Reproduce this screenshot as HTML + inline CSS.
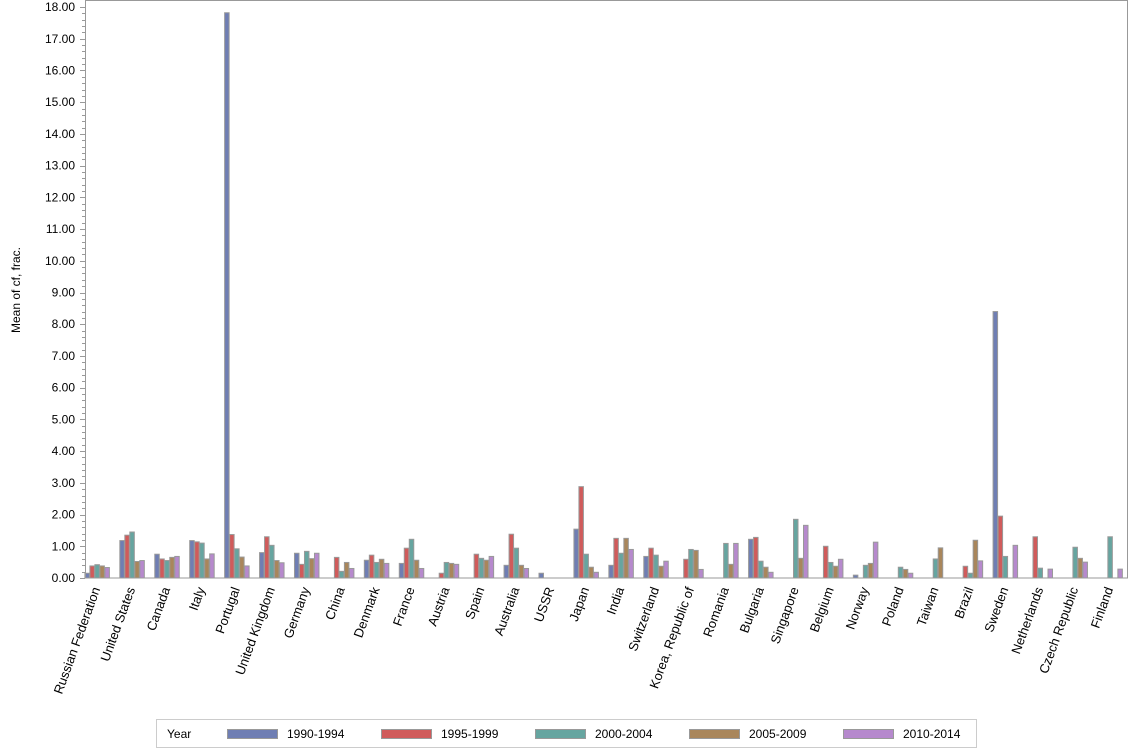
<!DOCTYPE html>
<html><head><meta charset="utf-8"><style>
html,body{margin:0;padding:0;background:#fff;}
svg{display:block;font-family:"Liberation Sans",sans-serif;}
</style></head><body>
<svg id="s" width="1134" height="756" xmlns="http://www.w3.org/2000/svg">
<rect x="0" y="0" width="1134" height="756" fill="#fff"/>
<g id="bars"></g>
<g id="ticks" stroke="#999" stroke-width="1"></g>
<rect x="85.5" y="0.5" width="1042" height="577.5" fill="none" stroke="#999"/>
<g font-size="12" fill="#000" text-anchor="end">
<text x="75" y="582">0.00</text><text x="75" y="550.3">1.00</text><text x="75" y="518.6">2.00</text>
<text x="75" y="486.8">3.00</text><text x="75" y="455.1">4.00</text><text x="75" y="423.4">5.00</text>
<text x="75" y="391.7">6.00</text><text x="75" y="360">7.00</text><text x="75" y="328.2">8.00</text>
<text x="75" y="296.5">9.00</text><text x="75" y="264.8">10.00</text><text x="75" y="233.1">11.00</text>
<text x="75" y="201.4">12.00</text><text x="75" y="169.6">13.00</text><text x="75" y="137.9">14.00</text>
<text x="75" y="106.2">15.00</text><text x="75" y="74.5">16.00</text><text x="75" y="42.8">17.00</text>
<text x="75" y="11">18.00</text>
</g>
<text transform="translate(20,290) rotate(-90)" font-size="12" text-anchor="middle">Mean of cf, frac.</text>
<g font-size="13" text-anchor="end" id="cl">
<text transform="translate(100.4,589) rotate(-70)">Russian Federation</text>
<text transform="translate(135.3,589) rotate(-70)">United States</text>
<text transform="translate(170.3,589) rotate(-70)">Canada</text>
<text transform="translate(205.2,589) rotate(-70)">Italy</text>
<text transform="translate(240.1,589) rotate(-70)">Portugal</text>
<text transform="translate(275.1,589) rotate(-70)">United Kingdom</text>
<text transform="translate(310,589) rotate(-70)">Germany</text>
<text transform="translate(344.9,589) rotate(-70)">China</text>
<text transform="translate(379.8,589) rotate(-70)">Denmark</text>
<text transform="translate(414.8,589) rotate(-70)">France</text>
<text transform="translate(449.7,589) rotate(-70)">Austria</text>
<text transform="translate(484.6,589) rotate(-70)">Spain</text>
<text transform="translate(519.6,589) rotate(-70)">Australia</text>
<text transform="translate(554.5,589) rotate(-70)">USSR</text>
<text transform="translate(589.4,589) rotate(-70)">Japan</text>
<text transform="translate(624.4,589) rotate(-70)">India</text>
<text transform="translate(659.3,589) rotate(-70)">Switzerland</text>
<text transform="translate(694.2,589) rotate(-70)">Korea, Republic of</text>
<text transform="translate(729.1,589) rotate(-70)">Romania</text>
<text transform="translate(764.1,589) rotate(-70)">Bulgaria</text>
<text transform="translate(799,589) rotate(-70)">Singapore</text>
<text transform="translate(833.9,589) rotate(-70)">Belgium</text>
<text transform="translate(868.9,589) rotate(-70)">Norway</text>
<text transform="translate(903.8,589) rotate(-70)">Poland</text>
<text transform="translate(938.7,589) rotate(-70)">Taiwan</text>
<text transform="translate(973.7,589) rotate(-70)">Brazil</text>
<text transform="translate(1008.6,589) rotate(-70)">Sweden</text>
<text transform="translate(1043.5,589) rotate(-70)">Netherlands</text>
<text transform="translate(1078.4,589) rotate(-70)">Czech Republic</text>
<text transform="translate(1113.4,589) rotate(-70)">Finland</text>
</g>
<rect x="156.5" y="719.5" width="820" height="28" fill="#fff" stroke="#ccc"/>
<g font-size="12">
<text x="167" y="738">Year</text>
<rect x="227.5" y="729.5" width="50" height="9" fill="#6F7EB3" stroke="#999"/><text x="287" y="738">1990-1994</text>
<rect x="381.5" y="729.5" width="50" height="9" fill="#D05B5B" stroke="#999"/><text x="441" y="738">1995-1999</text>
<rect x="535.5" y="729.5" width="50" height="9" fill="#66A5A0" stroke="#999"/><text x="595" y="738">2000-2004</text>
<rect x="689.5" y="729.5" width="50" height="9" fill="#A9865B" stroke="#999"/><text x="749" y="738">2005-2009</text>
<rect x="843.5" y="729.5" width="50" height="9" fill="#B689CD" stroke="#999"/><text x="903" y="738">2010-2014</text>
</g>
</svg>
<script>
var N=null;
var d=[[0.15,0.38,0.42,0.38,0.33],[1.18,1.35,1.45,0.52,0.55],[0.75,0.6,0.55,0.65,0.68],[1.18,1.14,1.1,0.6,0.76],
[17.82,1.37,0.92,0.66,0.38],[0.8,1.3,1.03,0.55,0.48],[0.78,0.43,0.84,0.61,0.78],[N,0.65,0.21,0.49,0.3],
[0.56,0.72,0.49,0.59,0.46],[0.46,0.94,1.22,0.56,0.3],[N,0.15,0.49,0.46,0.43],[N,0.75,0.62,0.56,0.68],
[0.4,1.38,0.94,0.4,0.3],[0.15,N,N,N,N],[1.54,2.88,0.75,0.34,0.18],[0.4,1.25,0.78,1.25,0.9],
[0.68,0.94,0.72,0.37,0.53],[N,0.59,0.9,0.87,0.27],[N,N,1.09,0.43,1.09],[1.22,1.28,0.53,0.34,0.18],
[N,N,1.85,0.62,1.66],[N,1.0,0.49,0.37,0.59],[0.09,N,0.4,0.46,1.13],[N,N,0.34,0.27,0.15],
[N,N,0.6,0.95,N],[N,0.37,0.15,1.19,0.54],[8.4,1.95,0.68,N,1.03],[N,1.3,0.31,N,0.28],
[N,N,0.97,0.62,0.5],[N,N,1.3,N,0.28]];
var c=["#6F7EB3","#D05B5B","#66A5A0","#A9865B","#B689CD"];
var ns="http://www.w3.org/2000/svg",g=document.getElementById("bars"),t=document.getElementById("ticks");
var k=31.72;
d.forEach(function(r,i){var s=84.4+i*34.93;r.forEach(function(v,j){if(v==null)return;
var h=v*k,e=document.createElementNS(ns,"rect");e.setAttribute("x",s+j*5+0.5);e.setAttribute("y",578-h);
e.setAttribute("width",4.5);e.setAttribute("height",h);e.setAttribute("fill",c[j]);e.setAttribute("stroke","#999");e.setAttribute("stroke-width","1");g.appendChild(e);});});
for(var i=0;i<=90;i++){var y=578-i*k/5;if(y<0)break;var L=i%5==0?5:3;var l=document.createElementNS(ns,"line");
l.setAttribute("x1",85-L);l.setAttribute("x2",85);l.setAttribute("y1",Math.round(y)+0.5);l.setAttribute("y2",Math.round(y)+0.5);t.appendChild(l);}
</script>
</body></html>
